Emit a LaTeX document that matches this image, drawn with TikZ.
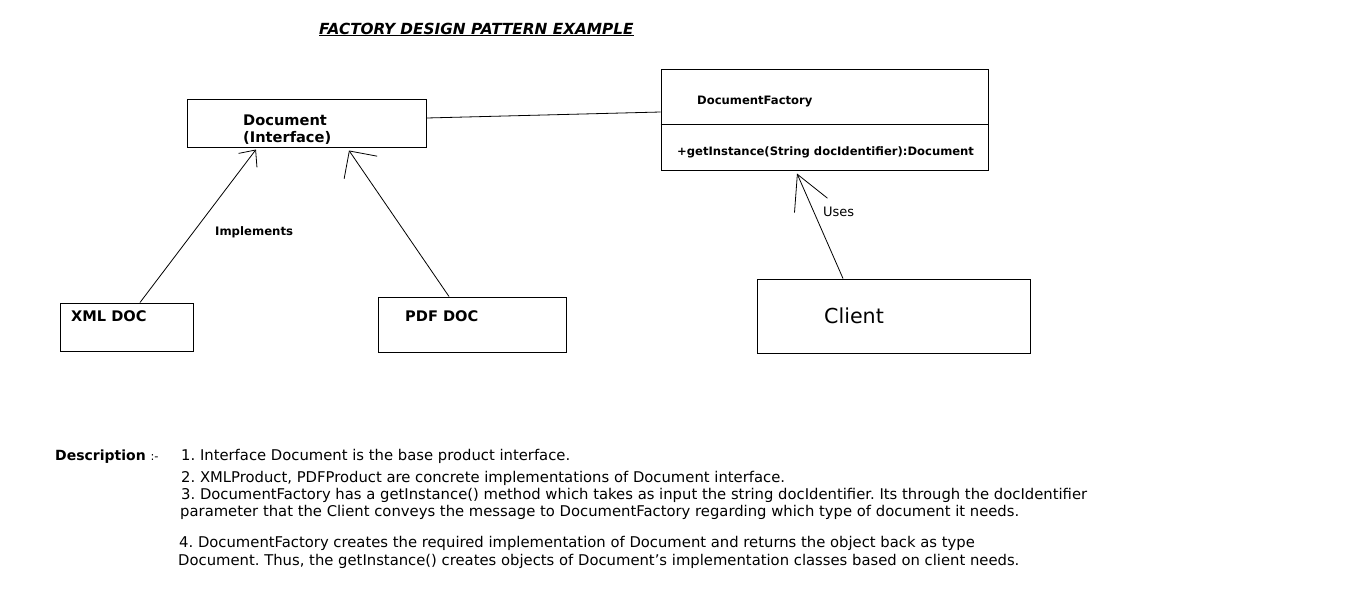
\documentclass[tikz,border=0pt]{standalone}
\usepackage{fontspec}
\setmainfont{DejaVu Sans}
\usetikzlibrary{arrows.meta}
\usetikzlibrary{calc}
\frenchspacing

\begin{document}
\begin{tikzpicture}[x=1pt, y=-1pt]
		\tikzset{box/.style={shape = rectangle, draw, line width = 1pt, inner sep = 0pt}}
		\tikzset{txt/.style={anchor = base west, inner sep = 0pt}}
		\tikzset{edge/.style={line width = 0.8pt}}
		\useasboundingbox (0, 0) rectangle (1360, 595);
		%title
		\node[txt, font=\fontsize{15.3}{17}\selectfont\bfseries\itshape] (title) at (319, 34) {\underline{FACTORY DESIGN PATTERN EXAMPLE}};
		%classes
		\node[box, minimum width = 239pt, minimum height = 48pt] (doc) at (306.5, 123) {};
		\node[txt, font=\fontsize{14.6}{16}\selectfont\bfseries] (docname) at (243, 125) {Document};
		\node[txt, font=\fontsize{14.6}{16}\selectfont\bfseries] (doctype) at (243, 142) {(Interface)};
		\node[box, minimum width = 327pt, minimum height = 101pt] (fact) at (824.5, 119.5) {};
		\draw[line width = 1pt] ($(fact.west)+(0, 4.5)$) -- ($(fact.east)+(0, 4.5)$);
		\node[txt, font=\fontsize{11.6}{13}\selectfont\bfseries] (factname) at (697, 104) {DocumentFactory};
		\node[txt, font=\fontsize{11.6}{13}\selectfont\bfseries] (factop) at (677, 155) {+getInstance(String docIdentifier):Document};
		\node[box, minimum width = 133pt, minimum height = 48pt] (xml) at (126.5, 327) {};
		\node[txt, font=\fontsize{14.6}{16}\selectfont\bfseries] (xmlname) at (71, 321) {XML DOC};
		\node[box, minimum width = 188pt, minimum height = 55pt] (pdf) at (472, 324.5) {};
		\node[txt, font=\fontsize{14.6}{16}\selectfont\bfseries] (pdfname) at (405, 321) {PDF DOC};
		\node[box, minimum width = 273pt, minimum height = 74pt] (client) at (893.5, 316) {};
		\node[txt, font=\fontsize{20.6}{23}\selectfont] (clientname) at (824, 323) {Client};
		%edges
		\draw[edge] ([yshift=5pt]doc.east) -- ([yshift=7.5pt]fact.west);
		\draw[edge, -{Straight Barb[length=13pt, width=23pt]}] ([xshift=13.5pt]xml.north) -- ([xshift=-50.5pt, yshift=-2pt]doc.south);
		\draw[edge, -{Straight Barb[length=20pt, width=40pt]}] ([xshift=-23pt]pdf.north) -- ([xshift=42.5pt, yshift=-3pt]doc.south);
		\draw[edge, -{Straight Barb[length=34pt, width=36pt]}] ([xshift=-50.5pt]client.north) -- ([xshift=-27.5pt, yshift=-3pt]fact.south);
		\node[txt, font=\fontsize{11.7}{13}\selectfont\bfseries] (impl) at (215, 235) {Implements};
		\node[txt, font=\fontsize{13}{15}\selectfont] (uses) at (823, 216) {Uses};
		%description
		\node[txt, font=\fontsize{14}{16}\selectfont\bfseries] (desc) at (55, 460) {Description {\mdseries\fontsize{11.5}{13}\selectfont:-}};
		\node[txt, font=\fontsize{14.8}{17}\selectfont] (line1) at (181, 460) {1. Interface Document is the base product interface.};
		\node[txt, font=\fontsize{14.8}{17}\selectfont] (line2) at (181, 482) {2. XMLProduct, PDFProduct are concrete implementations of Document interface.};
		\node[txt, font=\fontsize{14.8}{17}\selectfont] (line3) at (181, 499) {3. DocumentFactory has a getInstance() method which takes as input the string docIdentifier. Its through the docIdentifier};
		\node[txt, font=\fontsize{14.8}{17}\selectfont] (line3b) at (180, 516) {parameter that the Client conveys the message to DocumentFactory regarding which type of document it needs.};
		\node[txt, font=\fontsize{14.8}{17}\selectfont] (line4) at (179, 547) {4. DocumentFactory creates the required implementation of Document and returns the object back as type};
		\node[txt, font=\fontsize{14.8}{17}\selectfont] (line4b) at (178, 565) {Document. Thus, the getInstance() creates objects of Document’s implementation classes based on client needs.};
\end{tikzpicture}
\end{document}
